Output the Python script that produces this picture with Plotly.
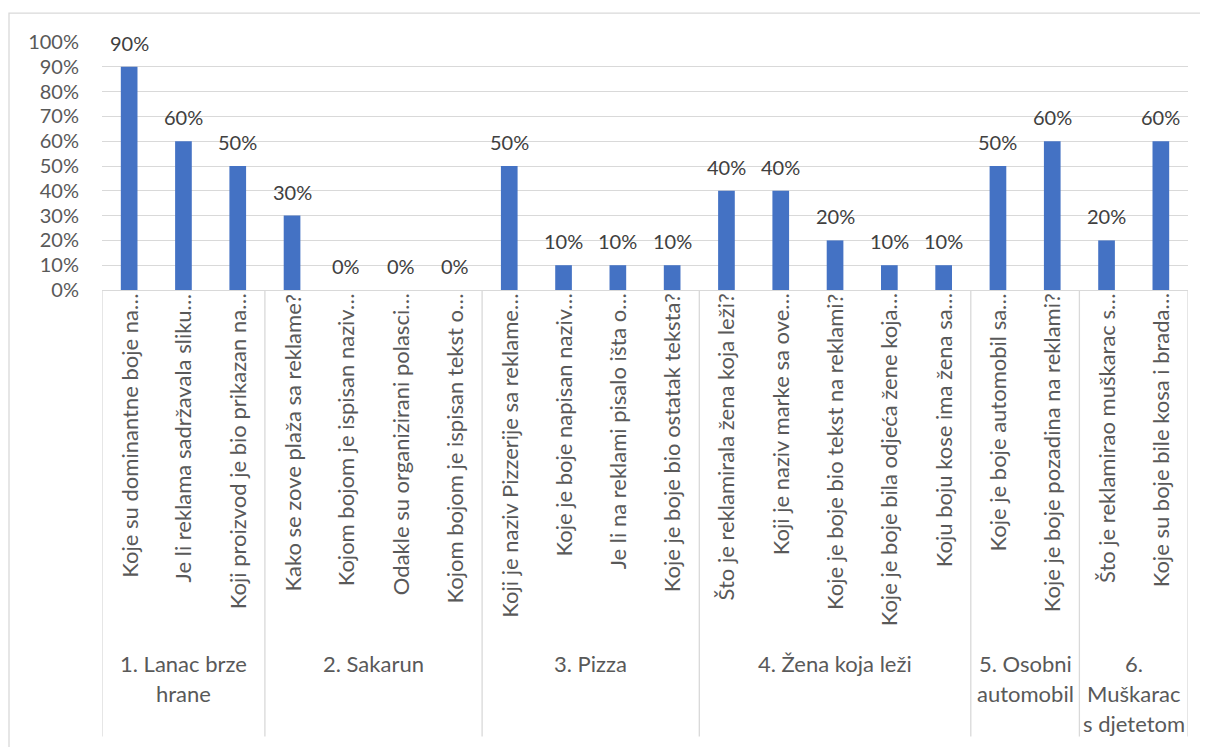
import plotly.graph_objects as go

# Data
questions = [
    "Koje su dominantne boje na…",
    "Je li reklama sadržavala sliku…",
    "Koji proizvod je bio prikazan na…",
    "Kako se zove plaža sa reklame?",
    "Kojom bojom je ispisan naziv…",
    "Odakle su organizirani polasci…",
    "Kojom bojom je ispisan tekst o…",
    "Koji je naziv Pizzerije sa reklame…",
    "Koje je boje napisan naziv…",
    "Je li na reklami pisalo išta o…",
    "Koje je boje bio ostatak teksta?",
    "Što je reklamirala žena koja leži?",
    "Koji je naziv marke sa ove…",
    "Koje je boje bio tekst na reklami?",
    "Koje je boje bila odjeća žene koja…",
    "Koju boju kose ima žena sa…",
    "Koje je boje automobil sa…",
    "Koje je boje pozadina na reklami?",
    "Što je reklamirao muškarac s…",
    "Koje su boje bile kosa i brada…",
]
values = [0.9, 0.6, 0.5, 0.3, 0.0, 0.0, 0.0, 0.5, 0.1, 0.1, 0.1,
          0.4, 0.4, 0.2, 0.1, 0.1, 0.5, 0.6, 0.2, 0.6]
groups = ["1. Lanac brze\nhrane", "2. Sakarun", "3. Pizza",
          "4. Žena koja leži", "5. Osobni\nautomobil", "6.\nMuškarac\ns djetetom"]
group_sizes = [3, 4, 4, 5, 2, 2]

# page body has an 8px margin, so the figure starts at (8, 8)
OFF = 8
W, H = 1208 - OFF, 747 - OFF
L, R, T = 102 - OFF, 20, 42 - OFF
ZERO = 290.5 - OFF
B = H - ZERO
plot_h = H - T - B
plot_w = W - L - R
FONT = "Lato"
GRID = "#d9d9d9"


def py(pix):
    # screen pixel row -> paper y
    return (ZERO - (pix - OFF)) / plot_h


def px(pix):
    return (pix - OFF - L) / plot_w


x = list(range(len(values)))

fig = go.Figure()
fig.add_trace(go.Bar(x=x, y=values, width=0.307, marker=dict(color="#4472c4", line=dict(width=0)),
                     hoverinfo="skip"))

annotations = []
# data labels
for i, v in enumerate(values):
    annotations.append(dict(x=i, y=v, xref="x", yref="y", text=f"{round(v * 100)}%",
                            showarrow=False, yanchor="middle", yshift=24,
                            font=dict(family=FONT, size=20, color="#404040")))
# rotated question labels
for i, q in enumerate(questions):
    annotations.append(dict(x=i, y=py(292), xref="x", yref="paper", text=q, textangle=-90,
                            showarrow=False, xanchor="center", yanchor="top",
                            font=dict(family=FONT, size=22, color="#595959")))

shapes = []
start = 0
bounds = [-0.5]
for g, n in zip(groups, group_sizes):
    centre = start + (n - 1) / 2
    for k, line in enumerate(g.split("\n")):
        annotations.append(dict(x=centre, y=py(665 + 30 * k), xref="x", yref="paper", text=line,
                                showarrow=False, xanchor="center", yanchor="middle",
                                font=dict(family=FONT, size=22, color="#595959")))
    start += n
    bounds.append(start - 0.5)

for b in bounds:
    shapes.append(dict(type="line", xref="x", yref="paper", x0=b, x1=b, y0=0, y1=py(738),
                       line=dict(color=GRID, width=1.3)))

# chart border
shapes.append(dict(type="rect", xref="paper", yref="paper", x0=px(9), x1=px(1230),
                   y0=py(770), y1=py(13), line=dict(color=GRID, width=1.3)))

fig.update_layout(
    width=W, height=H,
    margin=dict(l=L, r=R, t=T, b=B),
    paper_bgcolor="white", plot_bgcolor="white",
    showlegend=False,
    annotations=annotations,
    shapes=shapes,
    font=dict(family=FONT, size=20, color="#595959"),
)
fig.update_xaxes(range=[-0.5, len(values) - 0.5], showticklabels=False, showgrid=False,
                 zeroline=False, showline=True, linecolor=GRID, linewidth=1.3, fixedrange=True)
fig.update_yaxes(range=[0, 1], dtick=0.1, tickformat=".0%", showgrid=True, gridcolor=GRID,
                 gridwidth=1.3, zeroline=False, showline=False, ticklabelstandoff=22,
                 tickfont=dict(family=FONT, size=20, color="#595959"), fixedrange=True)

fig.write_html("out.html")
